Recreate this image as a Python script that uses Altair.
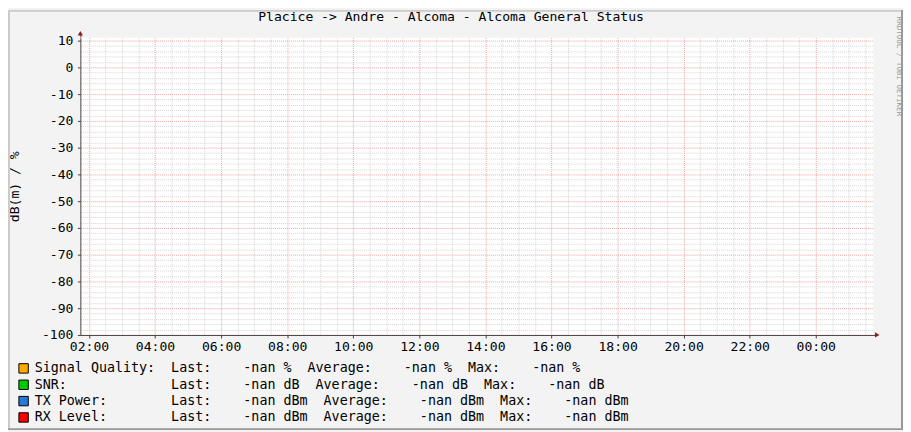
import altair as alt
import pandas as pd
import json

# ---------------- data ----------------
TITLE = "Placice -> Andre - Alcoma - Alcoma General Status"
Y_TITLE = "dB(m) / %"
WATERMARK = "RRDTOOL / TOBI OETIKER"

SERIES = ["Signal Quality", "SNR", "TX Power", "RX Level"]
UNITS = ["%", "dB", "dBm", "dBm"]
COLORS = ["#FFAA00", "#00CC00", "#2878DC", "#FF0000"]
LAST = ["-nan", "-nan", "-nan", "-nan"]
AVERAGE = ["-nan", "-nan", "-nan", "-nan"]
MAXIMUM = ["-nan", "-nan", "-nan", "-nan"]
# no valid samples in the whole period (all values are NaN)
SAMPLE_T = [None, None, None, None]
SAMPLE_V = [None, None, None, None]

X_START, X_END = 1.739, 25.739          # hours of day (01:44 .. 01:44 next day)
Y_MIN, Y_MAX = -100, 11.11

X_MAJOR = [2, 4, 6, 8, 10, 12, 14, 16, 18, 20, 22, 24]
X_LABELS = ["02:00", "04:00", "06:00", "08:00", "10:00", "12:00",
            "14:00", "16:00", "18:00", "20:00", "22:00", "00:00"]
X_MINOR = [h / 2 for h in range(5, 52) if h % 4 != 0]
Y_MAJOR = [-100, -90, -80, -70, -60, -50, -40, -30, -20, -10, 0, 10]
Y_MINOR = [v for v in range(-98, 11, 2) if v % 10 != 0]

# ---------------- style ----------------
MONO = "DejaVu Sans Mono"
FS = 13.2
BG = "#F3F3F3"
MINOR_C = "#D4D4D4"
MAJOR_C = "#F2A0A0"
AXIS_C = "#4A4040"
ARROW_C = "#8B1C1C"

NB = "\u00a0"
legend_labels = [
    (f"{(n + ':'):<17}Last:{l:>8} {u}  Average:{a:>8} {u}  Max:{m:>8} {u}").replace(" ", NB)
    for n, u, l, a, m in zip(SERIES, UNITS, LAST, AVERAGE, MAXIMUM)
]

df = pd.DataFrame({"series": legend_labels, "t": SAMPLE_T, "v": SAMPLE_V})

xscale = alt.Scale(domain=[X_START, X_END], nice=False, zero=False)
yscale = alt.Scale(domain=[Y_MIN, Y_MAX], nice=False, zero=False)

x_label_expr = f"{json.dumps(X_LABELS)}[indexof({json.dumps(X_MAJOR)}, datum.value)]"

minor = alt.Chart(df).mark_point(opacity=0).encode(
    x=alt.X("t:Q", scale=xscale, axis=alt.Axis(
        orient="bottom", values=X_MINOR, grid=True, gridColor=MINOR_C, gridDash=[1, 1],
        gridWidth=1, labels=False, ticks=False, domain=False, title=None)),
    y=alt.Y("v:Q", scale=yscale, axis=alt.Axis(
        orient="left", values=Y_MINOR, grid=True, gridColor=MINOR_C, gridDash=[1, 1],
        gridWidth=1, labels=False, ticks=False, domain=False, title=None)),
)

main = alt.Chart(df).mark_square(filled=True, opacity=1, size=60).encode(
    x=alt.X("t:Q", scale=xscale, axis=alt.Axis(
        orient="bottom", values=X_MAJOR, grid=True, gridColor=MAJOR_C, gridDash=[1, 1],
        gridWidth=1, labelExpr=x_label_expr, labelFont=MONO, labelFontSize=FS,
        labelColor="black", labelAngle=0, labelPadding=2.5, labelFlush=False,
        labelOverlap=False, tickSize=3, tickColor=AXIS_C, domainColor=AXIS_C,
        domainWidth=1, title=None)),
    y=alt.Y("v:Q", scale=yscale, axis=alt.Axis(
        orient="left", values=Y_MAJOR, grid=True, gridColor=MAJOR_C, gridDash=[1, 1],
        gridWidth=1, labelExpr="toString(datum.value)", labelFont=MONO, labelFontSize=FS,
        labelColor="black", labelPadding=4.5, labelFlush=False, labelOverlap=False,
        tickSize=3, tickColor=AXIS_C, domainColor=AXIS_C, domainWidth=1,
        title=Y_TITLE, titleFont=MONO, titleFontSize=FS, titleFontWeight="normal",
        titleColor="black", titleAngle=270, titleX=-66, titleY=150,
        titleAlign="center", titleBaseline="middle")),
    fill=alt.Fill("series:N", scale=alt.Scale(domain=legend_labels, range=COLORS),
                  legend=alt.Legend(
                      title=None, orient="none", legendX=-64, legendY=327,
                      direction="vertical", symbolType="square", symbolSize=90,
                      symbolStrokeColor="black", symbolStrokeWidth=1, symbolOpacity=1,
                      labelFont=MONO, labelFontSize=13.45, labelColor="black",
                      labelLimit=900, labelOffset=4.5, rowPadding=1.5, padding=0)),
)

one = alt.Data(values=[{"k": 0}])

# bevel border around the image
b_top = alt.Chart(one).mark_rule(color="#CBCBCB", strokeWidth=2).encode(
    x=alt.value(-73), x2=alt.value(830), y=alt.value(-27))
b_left = alt.Chart(one).mark_rule(color="#CBCBCB", strokeWidth=2).encode(
    x=alt.value(-72), y=alt.value(-28), y2=alt.value(396))
b_right = alt.Chart(one).mark_rule(color="#999999", strokeWidth=2).encode(
    x=alt.value(829), y=alt.value(-28), y2=alt.value(396))
b_bottom = alt.Chart(one).mark_rule(color="#999999", strokeWidth=2).encode(
    x=alt.value(-73), x2=alt.value(830), y=alt.value(395))

title_mark = alt.Chart(one).mark_text(
    text=TITLE, font=MONO, fontSize=FS, color="black",
    align="center", baseline="middle").encode(x=alt.value(374), y=alt.value(-20.5))

watermark = alt.Chart(one).mark_text(
    text=WATERMARK, angle=90, font=MONO, fontSize=7.6, color="#9A9A9A",
    align="center", baseline="middle").encode(x=alt.value(826), y=alt.value(29))

y_arrow = alt.Chart(one).mark_point(
    shape="triangle-up", filled=True, color=ARROW_C, size=28, opacity=1
).encode(x=alt.value(0), y=alt.value(-4.5))
x_arrow = alt.Chart(one).mark_point(
    shape="triangle-right", filled=True, color=ARROW_C, size=28, opacity=1
).encode(x=alt.value(804), y=alt.value(300))
y_ext = alt.Chart(one).mark_rule(color=AXIS_C, strokeWidth=1).encode(
    x=alt.value(0.5), y=alt.value(-4), y2=alt.value(0))
x_ext = alt.Chart(one).mark_rule(color=AXIS_C, strokeWidth=1).encode(
    x=alt.value(800), x2=alt.value(803), y=alt.value(300.5))

chart = alt.layer(
    minor, main, b_top, b_left, b_right, b_bottom,
    title_mark, watermark, y_ext, x_ext, y_arrow, x_arrow
).resolve_axis(x="independent", y="independent").properties(
    width=800, height=300,
    padding={"left": 73, "top": 28, "right": 30, "bottom": 96},
    autosize=alt.AutoSizeParams(type="none"),
    background=BG,
).configure_view(fill="white", stroke=None)

chart.save("out.html", embed_options={"renderer": "svg", "actions": False})
